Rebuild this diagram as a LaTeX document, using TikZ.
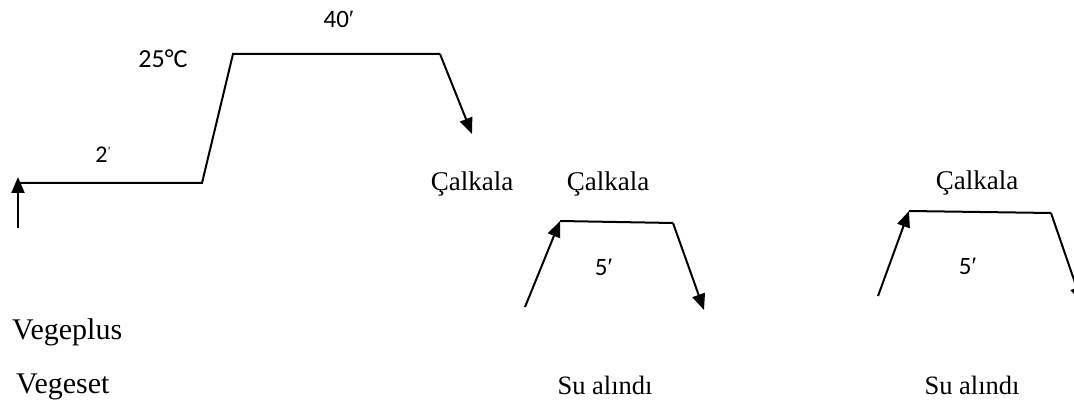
\documentclass[tikz,border=0pt]{standalone}
\usepackage{fontspec}
\setmainfont{Liberation Serif}
\newfontfamily\lblfont{Carlito}
\usetikzlibrary{arrows.meta}
\newcommand{\prm}{{\rmfamily ′}}
\begin{document}
\begin{tikzpicture}[x=1pt,y=-1pt,
  ln/.style={line width=2pt,line cap=butt,line join=miter},
  arr/.style={ln,-{Triangle[length=16pt,width=13pt]}},
  txt/.style={font=\fontsize{27}{30}\selectfont,inner sep=0pt,anchor=base},
  lbl/.style={font=\lblfont\fontsize{25}{28}\selectfont,inner sep=0pt,anchor=base}]
\useasboundingbox (0,0) rectangle (1074,403);
% first profile
\coordinate (a0) at (18,228);
\coordinate (a1) at (18,177);
\coordinate (b0) at (18,183);
\coordinate (b1) at (202,183);
\coordinate (b2) at (233,54);
\coordinate (b3) at (440,54);
\coordinate (b4) at (472,134);
\draw[arr] (a0) -- (a1);
\draw[ln] (b0) -- (b1) -- (b2) -- (b3);
\draw[arr] (b3) -- (b4);
\node[lbl,font=\lblfont\fontsize{24}{26}\selectfont] (t2) at (103,163) {2\raisebox{7pt}{\fontsize{12}{13}\selectfont ’}};
\node[lbl,font=\lblfont\fontsize{26}{28}\selectfont] (t25) at (163,68) {25°C};
\node[lbl,font=\lblfont\fontsize{25}{28}\selectfont] (t40) at (339,28) {40\prm};
\node[txt] (c1) at (472,191) {Çalkala};
% second
\coordinate (d0) at (525,307);
\coordinate (d1) at (560,221);
\coordinate (d2) at (673,223);
\coordinate (d3) at (704,310);
\draw[arr] (d0) -- (d1);
\draw[ln] (d1) -- (d2);
\draw[arr] (d2) -- (d3);
\node[txt] (c2) at (608,191) {Çalkala};
\node[lbl] (f1) at (604,276) {5\prm};
% third
\coordinate (e0) at (878,296);
\coordinate (e1) at (909,211);
\coordinate (e2) at (1051,213);
\coordinate (e3) at (1082,303);
\draw[arr] (e0) -- (e1);
\draw[ln] (e1) -- (e2);
\begin{scope}
\clip (0,0) rectangle (1074,403);
\draw[arr] (e2) -- (e3);
\end{scope}
\node[txt] (c3) at (977,190) {Çalkala};
\node[lbl] (f2) at (968,275) {5\prm};
% bottom texts
\node[txt,anchor=base west,font=\fontsize{30}{32}\selectfont] (vp) at (12,340) {Vegeplus};
\node[txt,anchor=base west,font=\fontsize{30}{32}\selectfont] (vs) at (16,393) {Vegeset};
\node[txt,font=\fontsize{26.5}{28}\selectfont] (s1) at (605,394) {Su alındı};
\node[txt,font=\fontsize{26.5}{28}\selectfont] (s2) at (972,394) {Su alındı};
\end{tikzpicture}
\end{document}
